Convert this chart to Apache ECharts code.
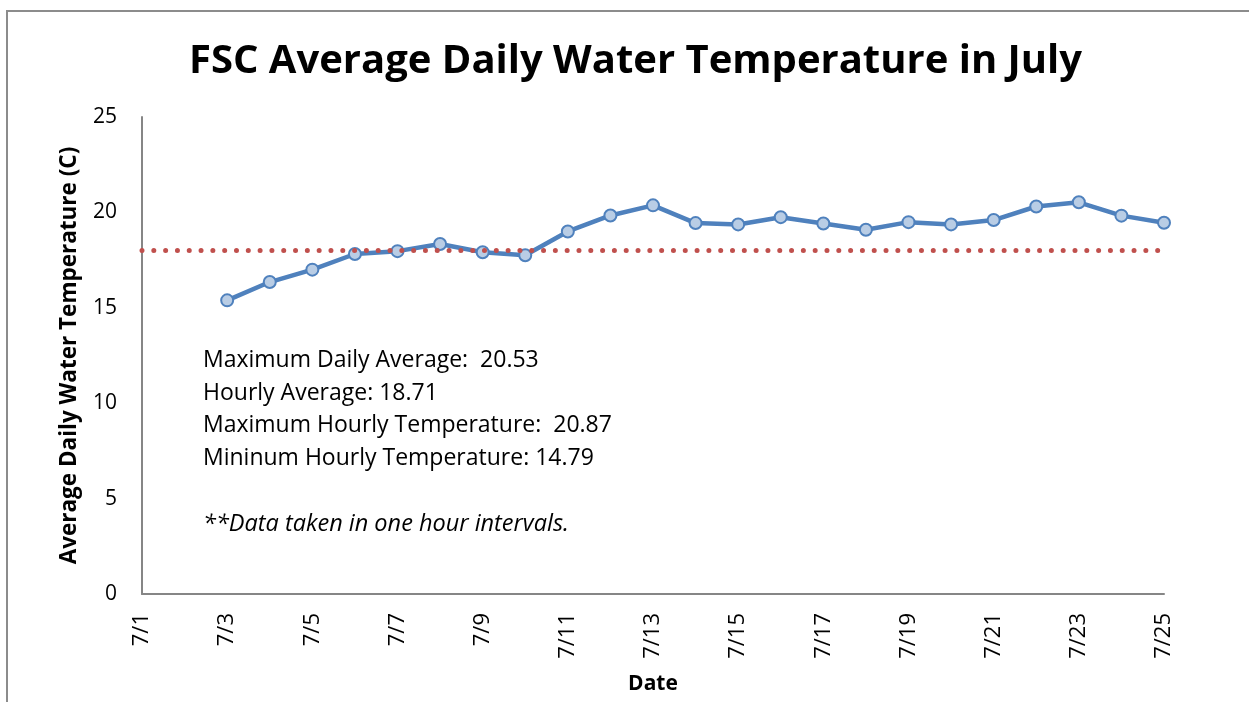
<!DOCTYPE html>
<html>
<head>
<meta charset="utf-8">
<script src="https://cdn.jsdelivr.net/npm/echarts@6/dist/echarts.min.js"></script>
<style>
  html, body { margin: 0; padding: 0; background: #fff; }
  #chart { width: 1249px; height: 702px; }
</style>
</head>
<body>
<div id="chart"></div>
<script>
// dates shown on the x axis (7/1 .. 7/25)
const dates = ['7/1', '7/2', '7/3', '7/4', '7/5', '7/6', '7/7', '7/8', '7/9', '7/10', '7/11', '7/12', '7/13',
  '7/14', '7/15', '7/16', '7/17', '7/18', '7/19', '7/20', '7/21', '7/22', '7/23', '7/24', '7/25']
// daily average water temperature (C), no readings for 7/1 and 7/2
const avgTemp = [null, null, 15.39, 16.35, 17.0, 17.82, 17.97, 18.34, 17.91, 17.75, 19.0, 19.84, 20.37,
  19.44, 19.37, 19.75, 19.42, 19.09, 19.49, 19.37, 19.6, 20.31, 20.53, 19.83, 19.46]
const threshold = 18
const yTicks = { min: 0, max: 25, interval: 5 }
const notes = [
  'Maximum Daily Average:  20.53',
  'Hourly Average: 18.71',
  'Maximum Hourly Temperature:  20.87',
  'Mininum Hourly Temperature: 14.79'
]
const footnote = '**Data taken in one hour intervals.'

const font = '"Open Sans", sans-serif'

const chart = echarts.init(document.getElementById('chart'))
chart.setOption({
  animation: false,
  backgroundColor: '#fff',
  title: {
    text: 'FSC Average Daily Water Temperature in July',
    left: 184,
    top: 37,
    textStyle: { fontFamily: font, fontWeight: 'bold', fontSize: 40, color: '#000' }
  },
  grid: { left: 142, right: 85, top: 117, bottom: 108, containLabel: false },
  xAxis: {
    type: 'category',
    data: dates,
    boundaryGap: false,
    name: 'Date',
    nameLocation: 'middle',
    nameGap: 80,
    nameTextStyle: { fontFamily: font, fontWeight: 'bold', fontSize: 21, color: '#000' },
    axisLine: { lineStyle: { color: '#868686', width: 2 } },
    axisTick: { show: false },
    axisLabel: {
      interval: 1,
      rotate: 90,
      margin: 19,
      fontFamily: font,
      fontSize: 22,
      color: '#000'
    },
    splitLine: { show: false }
  },
  yAxis: {
    type: 'value',
    min: yTicks.min,
    max: yTicks.max,
    interval: yTicks.interval,
    name: 'Average Daily Water Temperature (C)',
    nameLocation: 'middle',
    nameGap: 61,
    nameTextStyle: { fontFamily: font, fontWeight: 'bold', fontSize: 22.5, color: '#000' },
    axisLine: { show: true, lineStyle: { color: '#868686', width: 2 } },
    axisTick: { show: false },
    axisLabel: { margin: 25, fontFamily: font, fontSize: 21, color: '#000' },
    splitLine: { show: false }
  },
  series: [
    {
      type: 'line',
      data: avgTemp,
      symbol: 'circle',
      symbolSize: 12,
      lineStyle: { color: '#4F81BD', width: 4.5 },
      itemStyle: { color: '#B9CDE5', borderColor: '#4F81BD', borderWidth: 2 },
      markLine: {
        silent: true,
        symbol: 'none',
        label: { show: false },
        lineStyle: { color: '#C0504D', width: 5, type: [0.01, 11.8], cap: 'round' },
        data: [{ yAxis: threshold }]
      },
      z: 3
    }
  ],
  graphic: [
    {
      type: 'rect',
      shape: { x: 7, y: 11, width: 1400, height: 900 },
      style: { fill: 'none', stroke: '#8c8c8c', lineWidth: 2 },
      silent: true
    },
    {
      type: 'text',
      left: 203,
      top: 344,
      style: {
        text: notes.join('\n'),
        fontFamily: font,
        fontSize: 23,
        lineHeight: 32.7,
        fill: '#000'
      }
    },
    {
      type: 'text',
      left: 203,
      top: 508,
      style: {
        text: footnote,
        fontFamily: font,
        fontStyle: 'italic',
        fontSize: 23.5,
        lineHeight: 32.7,
        fill: '#000'
      }
    }
  ]
})
</script>
</body>
</html>
